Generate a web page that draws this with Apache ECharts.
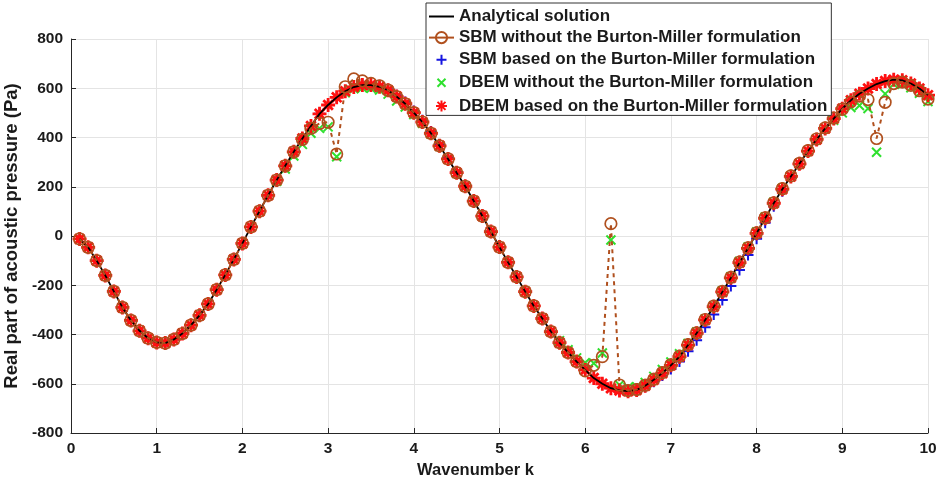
<!DOCTYPE html>
<html><head><meta charset="utf-8">
<script src="https://cdn.jsdelivr.net/npm/echarts@6/dist/echarts.min.js"></script>
<style>html,body{margin:0;padding:0;background:#fff}#c{width:939px;height:489px}</style>
</head><body><div id="c"></div>
<script>
const k = [0.1,0.2,0.3,0.4,0.5,0.6,0.7,0.8,0.9,1.0,
1.1,1.2,1.3,1.4,1.5,1.6,1.7,1.8,1.9,2.0,
2.1,2.2,2.3,2.4,2.5,2.6,2.7,2.8,2.9,3.0,
3.1,3.2,3.3,3.4,3.5,3.6,3.7,3.8,3.9,4.0,
4.1,4.2,4.3,4.4,4.5,4.6,4.7,4.8,4.9,5.0,
5.1,5.2,5.3,5.4,5.5,5.6,5.7,5.8,5.9,6.0,
6.1,6.2,6.3,6.4,6.5,6.6,6.7,6.8,6.9,7.0,
7.1,7.2,7.3,7.4,7.5,7.6,7.7,7.8,7.9,8.0,
8.1,8.2,8.3,8.4,8.5,8.6,8.7,8.8,8.9,9.0,
9.1,9.2,9.3,9.4,9.5,9.6,9.7,9.8,9.9,10.0];

const analytical = [-12,-46,-100,-160,-225,-290,-343,-385,-415,-432,
-435,-420,-396,-362,-322,-276,-218,-158,-95,-30,
37,101,165,227,285,342,396,447,496,532,
563,588,605,613,613,606,592,566,537,501,
463,417,366,313,257,202,142,81,18,-45,
-107,-166,-226,-284,-335,-388,-433,-473,-510,-544,
-577,-600,-618,-627,-630,-625,-608,-584,-557,-525,
-490,-443,-395,-341,-287,-227,-170,-108,-50,11,
72,133,190,242,293,345,392,437,477,517,
551,578,599,617,629,635,632,619,599,572];

const sbmNoBM = [-12,-46,-100,-160,-225,-290,-343,-385,-415,-432,
-435,-420,-396,-362,-322,-276,-218,-158,-95,-30,
37,101,165,227,285,342,392,437,457,462,
333,606,638,630,620,610,592,566,537,501,
463,417,366,313,257,202,142,81,18,-45,
-107,-166,-226,-284,-335,-388,-433,-473,-510,-548,
-525,-490,50,-605,-628,-624,-606,-582,-555,-523,
-488,-441,-393,-339,-285,-225,-168,-106,-48,13,
74,135,192,244,295,347,394,439,479,515,
545,568,554,396,543,619,625,612,590,556];

const sbmBM = [-12,-46,-100,-160,-225,-290,-343,-385,-415,-432,
-435,-420,-396,-362,-322,-276,-218,-158,-95,-30,
37,101,165,227,285,342,396,447,496,532,
563,588,605,615,616,610,596,572,544,508,
470,424,372,318,260,204,143,81,18,-45,
-107,-166,-226,-284,-335,-388,-433,-473,-510,-544,
-577,-600,-618,-627,-630,-625,-612,-592,-567,-540,
-510,-468,-423,-371,-319,-260,-203,-138,-77,-11,
54,121,182,238,292,345,392,437,477,517,
551,578,599,617,629,635,632,619,599,572];

const dbemNoBM = [-12,-46,-100,-160,-225,-290,-343,-385,-415,-432,
-435,-420,-396,-362,-322,-276,-218,-158,-95,-30,
37,101,165,222,272,325,372,417,437,443,
322,582,598,602,600,593,576,548,524,493,
458,414,364,311,255,200,141,80,17,-45,
-107,-166,-226,-284,-335,-388,-425,-462,-495,-515,
-517,-475,-16,-605,-615,-612,-595,-570,-542,-512,
-478,-436,-390,-337,-283,-223,-165,-103,-45,16,
77,137,193,244,294,345,392,435,470,500,
522,530,518,340,577,617,616,602,580,546];

const dbemBM = [-12,-46,-100,-160,-225,-290,-343,-385,-415,-432,
-435,-420,-396,-362,-322,-276,-218,-158,-95,-30,
37,101,165,227,285,342,396,447,496,532,
563,588,605,613,613,606,592,566,537,501,
463,417,366,313,257,202,142,81,18,-45,
-107,-166,-226,-284,-335,-388,-433,-473,-510,-544,
-577,-600,-618,-627,-630,-625,-608,-584,-557,-525,
-490,-443,-395,-341,-287,-227,-170,-108,-50,11,
72,133,190,242,293,345,392,437,477,517,
551,578,599,617,629,635,632,619,599,572];

const names = ['Analytical solution',
 'SBM without the Burton-Miller formulation',
 'SBM based on the Burton-Miller formulation',
 'DBEM without the Burton-Miller formulation',
 'DBEM based on the Burton-Miller formulation'];

const pairs = v => k.map((x, i) => [x, v[i]]);
const FONT = '"Liberation Sans", Arial, sans-serif';
const TXT = '#1a1a1a';
const PLUS = 'path://M5,0L5,10M0,5L10,5';
const CROSS = 'path://M0,0L10,10M10,0L0,10';
const STAR = 'path://M5,0L5,10M0,5L10,5M1.6,1.6L8.4,8.4M8.4,1.6L1.6,8.4';
const L_PLUS = 'path://M0,0M14,14M7,2L7,12M2,7L12,7';
const L_CROSS = 'path://M0,0M14,14M3,3L11,11M11,3L3,11';
const L_STAR = 'path://M0,0M14,14M7,1.5L7,12.5M1.5,7L12.5,7M3,3L11,11M11,3L3,11';
const BROWN = '#B0501E', BLUE = '#1515E0', GREEN = '#2EE02E', RED = '#FF1010';

const chart = echarts.init(document.getElementById('c'), null, {renderer: 'canvas'});
chart.setOption({
  animation: false,
  backgroundColor: '#fff',
  textStyle: {fontFamily: FONT},
  grid: {left: 71, right: 11, top: 39, bottom: 56, containLabel: false, outerBoundsMode: 'none'},
  legend: {
    orient: 'vertical', left: 426, top: 3,
    backgroundColor: '#fff', borderColor: '#333', borderWidth: 1,
    padding: [5, 4, 0, 2], itemGap: 4.1, itemWidth: 25, itemHeight: 14,
    textStyle: {fontFamily: FONT, fontSize: 17, fontWeight: 'bold', color: TXT},
    data: [
      {name: names[0], icon: 'path://M0,0L25,0L25,2L0,2Z'},
      {name: names[1], lineStyle: {type: 'solid'}},
      {name: names[2], icon: L_PLUS},
      {name: names[3], icon: L_CROSS},
      {name: names[4], icon: L_STAR}
    ]
  },
  xAxis: {
    type: 'value', min: 0, max: 10, interval: 1,
    name: 'Wavenumber k', nameLocation: 'middle', nameGap: 28,
    nameTextStyle: {fontFamily: FONT, fontSize: 16.5, fontWeight: 'bold', color: TXT, padding: [0, 48, 0, 0]},
    axisLine: {show: true, onZero: false, lineStyle: {color: '#262626', width: 1}},
    axisTick: {show: true, inside: true, length: 5, lineStyle: {color: '#262626'}},
    axisLabel: {fontFamily: FONT, fontSize: 15.5, fontWeight: 'bold', color: TXT, margin: 8},
    splitLine: {show: true, lineStyle: {color: '#e4e4e4', width: 1}}
  },
  yAxis: {
    type: 'value', min: -800, max: 800, interval: 200,
    name: 'Real part of acoustic pressure (Pa)', nameLocation: 'middle', nameGap: 36,
    nameTextStyle: {fontFamily: FONT, fontSize: 18.5, fontWeight: 'bold', color: TXT},
    axisLine: {show: true, onZero: false, lineStyle: {color: '#262626', width: 1}},
    axisTick: {show: true, inside: true, length: 5, lineStyle: {color: '#262626'}},
    axisLabel: {fontFamily: FONT, fontSize: 15.5, fontWeight: 'bold', color: TXT, margin: 8},
    splitLine: {show: true, lineStyle: {color: '#e4e4e4', width: 1}}
  },
  series: [
    {name: names[0], type: 'line', data: pairs(analytical), showSymbol: false, symbol: 'none',
     lineStyle: {color: '#000', width: 1.8}, itemStyle: {color: '#000'}},
    {name: names[1], type: 'line', data: pairs(sbmNoBM), symbol: 'circle', symbolSize: 11.5, showAllSymbol: true,
     lineStyle: {color: BROWN, width: 2, type: [4, 4]},
     itemStyle: {color: 'none', borderColor: BROWN, borderWidth: 1.7}},
    {name: names[2], type: 'scatter', data: pairs(sbmBM), symbol: PLUS, symbolSize: 11,
     itemStyle: {color: 'none', borderColor: BLUE, borderWidth: 2, opacity: 1}},
    {name: names[3], type: 'scatter', data: pairs(dbemNoBM), symbol: CROSS, symbolSize: 9,
     itemStyle: {color: 'none', borderColor: GREEN, borderWidth: 2, opacity: 1}},
    {name: names[4], type: 'scatter', data: pairs(dbemBM), symbol: STAR, symbolSize: 14,
     itemStyle: {color: 'none', borderColor: RED, borderWidth: 2.8, opacity: 1}}
  ]
});
</script></body></html>
